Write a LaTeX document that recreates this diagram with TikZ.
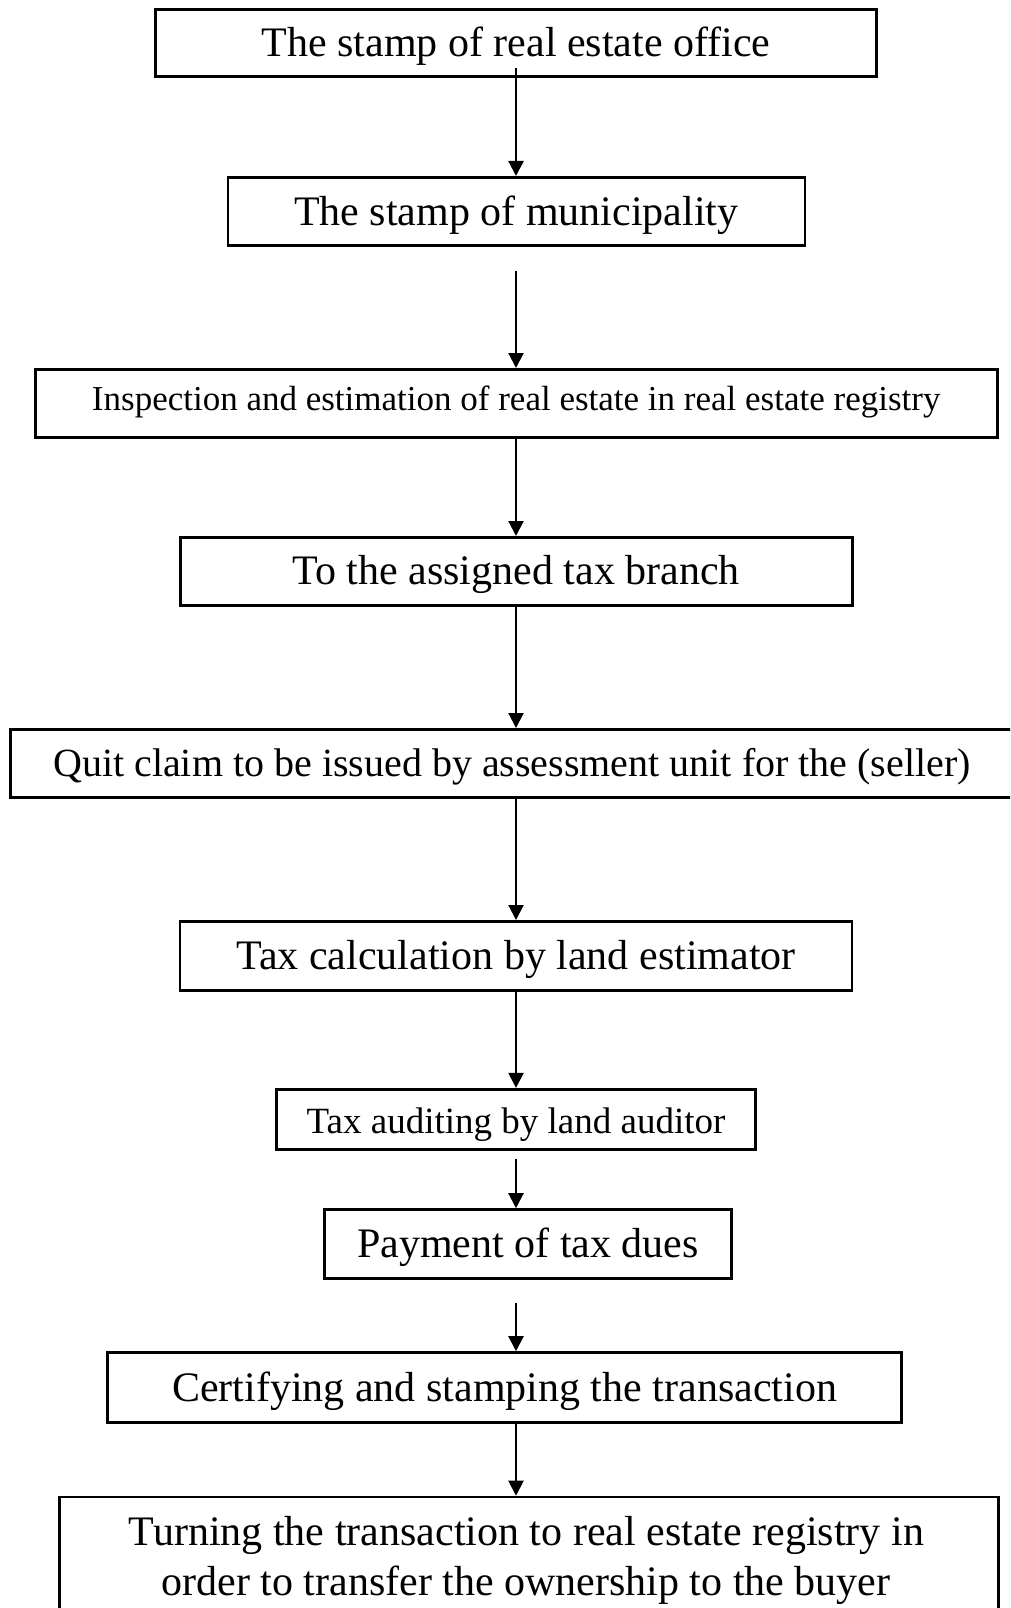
\documentclass[tikz,border=0pt]{standalone}
\usepackage{fontspec}
\setmainfont{Liberation Serif}
\usetikzlibrary{arrows.meta}
\begin{document}
\begin{tikzpicture}[x=1pt,y=-1pt,
  stepbox/.style={draw, line width=2.6pt, inner sep=0pt, text depth=0pt, text height=28pt,
    font=\fontsize{42}{50}\selectfont},
  flow/.style={-{Triangle[length=15pt,width=15pt]}, line width=2.2pt}]
\path[use as bounding box, clip] (0,0) rectangle (1010,1608);
\fill[white] (0,0) rectangle (1010,1608);
\coordinate (ax) at (516,0);

\node[stepbox, minimum width=721pt, minimum height=67pt] (b1) at (516,43) {The stamp of real estate office};
\node[stepbox, minimum width=577pt, minimum height=68pt] (b2) at (516.3,211.3) {The stamp of municipality};
\node[stepbox, minimum width=962pt, minimum height=68pt, text height=15pt,
      font=\fontsize{35}{42}\selectfont] (b3) at (516.2,403.3) {Inspection and estimation of real estate in real estate registry};
\node[stepbox, minimum width=672pt, minimum height=68pt, text height=27pt] (b4) at (516.2,571.3) {To the assigned tax branch};
\node[stepbox, minimum width=1003pt, minimum height=68pt, text height=27pt,
      font=\fontsize{40}{48}\selectfont] (b5) at (512,763.3) {Quit claim to be issued by assessment unit for the (seller)};
\node[stepbox, minimum width=672pt, minimum height=69pt] (b6) at (516,955.8) {Tax calculation by land estimator};
\node[stepbox, minimum width=479pt, minimum height=60pt,
      font=\fontsize{37}{44}\selectfont] (b7) at (516,1119.2) {Tax auditing by land auditor};
\node[stepbox, minimum width=407pt, minimum height=69pt, text height=27pt] (b8) at (528,1244) {Payment of tax dues};
\node[stepbox, minimum width=794pt, minimum height=70pt] (b9) at (504.5,1387.5) {Certifying and stamping the transaction};
\node[draw, line width=2.6pt, inner sep=0pt, minimum width=939pt, minimum height=160pt] (b10) at (529,1577) {};
\node[anchor=base, inner sep=0pt, font=\fontsize{42}{50}\selectfont] (t10a) at (526.5,1545) {Turning the transaction to real estate registry in};
\node[anchor=base, inner sep=0pt, font=\fontsize{42}{50}\selectfont] (t10b) at (526,1595) {order to transfer the ownership to the buyer};

\draw[flow] ([yshift=10pt]b1.south -| ax) -- (b2.north -| ax);
\draw[flow] ([yshift=-24.7pt]b2.south -| ax) -- (b3.north -| ax);
\draw[flow] (b3.south -| ax) -- (b4.north -| ax);
\draw[flow] (b4.south -| ax) -- (b5.north -| ax);
\draw[flow] (b5.south -| ax) -- (b6.north -| ax);
\draw[flow] (b6.south -| ax) -- (b7.north -| ax);
\draw[flow] ([yshift=-8.5pt]b7.south -| ax) -- (b8.north -| ax);
\draw[flow] ([yshift=-23pt]b8.south -| ax) -- (b9.north -| ax);
\draw[flow] (b9.south -| ax) -- (b10.north -| ax);
\end{tikzpicture}
\end{document}
